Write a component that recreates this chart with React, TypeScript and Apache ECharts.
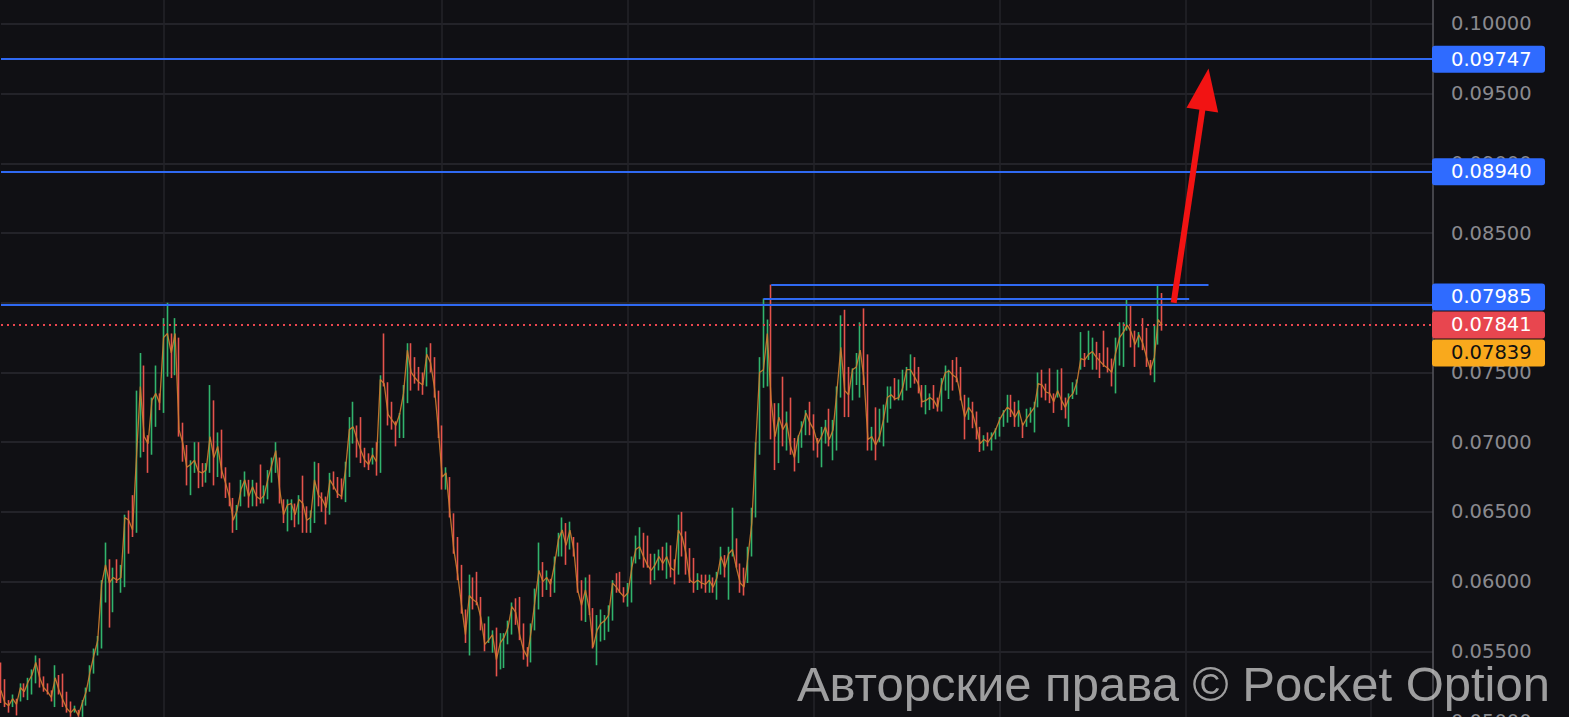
import React, { useEffect, useRef } from 'react';
import * as echarts from 'echarts';

// Each candle: [close, high, low]; open = previous close
const segA: number[][] = [
  [0.0522,0.0542,0.0513],[0.0513,0.0530,0.0510],[0.0511,0.0515,0.0506],[0.0516,0.0519,0.0510],[0.0512,0.0516,0.0504],
  [0.0524,0.0527,0.0514],[0.0521,0.0527,0.0517],[0.0528,0.0531,0.0515],[0.0533,0.0537,0.0519],[0.0542,0.0547,0.0527],
  [0.0531,0.0545,0.0524],[0.0524,0.0532,0.0521],[0.0521,0.0527,0.0519],[0.0517,0.0522,0.0514],[0.0531,0.0540,0.0510],
  [0.0522,0.0533,0.0519],[0.0515,0.0534,0.0510],[0.0509,0.0521,0.0506],[0.0506,0.0514,0.0503],[0.0509,0.0511,0.0506],
  [0.0504,0.0508,0.0503],[0.0513,0.0515,0.0503],[0.0521,0.0524,0.0511],[0.0535,0.0540,0.0521],[0.0547,0.0552,0.0534],
  [0.0558,0.0561,0.0547],[0.0598,0.0601,0.0552],
];
const segB: number[][] = [
  [0.0612,0.0628,0.0585],[0.0599,0.0616,0.0567],[0.0603,0.0610,0.0578],[0.0601,0.0616,0.0599],[0.0603,0.0612,0.0592],
  [0.0646,0.0648,0.0596],[0.0644,0.0651,0.0620],[0.0637,0.0662,0.0632],[0.0689,0.0737,0.0635],[0.0740,0.0764,0.0689],
  [0.0704,0.0755,0.0693],[0.0699,0.0705,0.0678],[0.0730,0.0732,0.0691],[0.0735,0.0755,0.0711],[0.0728,0.0735,0.0723],
  [0.0775,0.0789,0.0721],[0.0778,0.0800,0.0747],[0.0764,0.0778,0.0746],[0.0778,0.0789,0.0748],[0.0709,0.0775,0.0704],
  [0.0699,0.0714,0.0686],[0.0682,0.0698,0.0669],[0.0684,0.0687,0.0662],[0.0687,0.0700,0.0678],[0.0679,0.0700,0.0667],
  [0.0678,0.0685,0.0668],[0.0680,0.0685,0.0671],[0.0704,0.0741,0.0678],[0.0689,0.0730,0.0669],[0.0697,0.0707,0.0675],
  [0.0680,0.0709,0.0674],[0.0671,0.0682,0.0660],[0.0661,0.0671,0.0654],[0.0644,0.0660,0.0635],[0.0651,0.0655,0.0637],
  [0.0666,0.0673,0.0654],[0.0673,0.0679,0.0661],[0.0661,0.0673,0.0653],[0.0668,0.0673,0.0654],[0.0661,0.0671,0.0654],
  [0.0659,0.0684,0.0656],[0.0662,0.0669,0.0656],[0.0674,0.0680,0.0659],[0.0684,0.0689,0.0671],[0.0694,0.0700,0.0678],
  [0.0666,0.0689,0.0656],[0.0648,0.0659,0.0642],[0.0655,0.0659,0.0636],[0.0656,0.0659,0.0644],[0.0648,0.0656,0.0639],
  [0.0659,0.0662,0.0641],
];
const segC: number[][] = [
  [0.0656,0.0676,0.0635],[0.0644,0.0654,0.0635],[0.0646,0.0651,0.0635],[0.0673,0.0686,0.0642],[0.0662,0.0685,0.0654],
  [0.0659,0.0664,0.0650],[0.0653,0.0661,0.0641],[0.0673,0.0678,0.0648],[0.0668,0.0679,0.0666],[0.0663,0.0675,0.0660],
  [0.0661,0.0674,0.0659],[0.0680,0.0686,0.0657],[0.0709,0.0718,0.0675],[0.0711,0.0729,0.0699],[0.0702,0.0712,0.0689],
  [0.0694,0.0718,0.0685],[0.0687,0.0696,0.0682],[0.0684,0.0692,0.0680],[0.0691,0.0696,0.0684],[0.0686,0.0700,0.0676],
  [0.0745,0.0748,0.0678],[0.0742,0.0778,0.0740],[0.0720,0.0743,0.0712],[0.0716,0.0729,0.0709],[0.0712,0.0715,0.0697],
  [0.0720,0.0721,0.0703],[0.0735,0.0741,0.0703],[0.0766,0.0771,0.0728],[0.0750,0.0771,0.0737],[0.0746,0.0761,0.0742],
  [0.0743,0.0754,0.0737],[0.0741,0.0750,0.0734],[0.0763,0.0768,0.0740],[0.0757,0.0771,0.0750],[0.0739,0.0761,0.0732],
  [0.0709,0.0737,0.0703],[0.0675,0.0712,0.0666],[0.0678,0.0682,0.0666],[0.0649,0.0675,0.0646],[0.0623,0.0649,0.0620],
  [0.0605,0.0632,0.0601],[0.0583,0.0612,0.0577],[0.0562,0.0580,0.0556],[0.0590,0.0605,0.0547],[0.0587,0.0603,0.0580],
  [0.0585,0.0607,0.0583],[0.0574,0.0589,0.0565],[0.0555,0.0570,0.0550],[0.0558,0.0575,0.0556],[0.0562,0.0565,0.0549],
  [0.0544,0.0567,0.0532],[0.0556,0.0563,0.0537],[0.0560,0.0563,0.0538],[0.0567,0.0572,0.0555],[0.0582,0.0585,0.0562],
  [0.0578,0.0588,0.0569],[0.0562,0.0589,0.0558],[0.0551,0.0570,0.0544],[0.0546,0.0553,0.0539],[0.0565,0.0570,0.0542],
  [0.0587,0.0595,0.0565],[0.0608,0.0628,0.0580],[0.0600,0.0614,0.0589],[0.0603,0.0608,0.0594],[0.0598,0.0602,0.0589],
  [0.0612,0.0618,0.0592],[0.0630,0.0635,0.0618],[0.0637,0.0646,0.0618],[0.0626,0.0642,0.0612],[0.0637,0.0643,0.0623],
  [0.0623,0.0632,0.0618],[0.0594,0.0628,0.0592],[0.0583,0.0601,0.0572],[0.0594,0.0603,0.0571],[0.0580,0.0605,0.0576],
];
const segD: number[][] = [
  [0.0553,0.0581,0.0552],[0.0565,0.0576,0.0540],[0.0570,0.0580,0.0557],[0.0572,0.0576,0.0558],[0.0576,0.0583,0.0564],
  [0.0599,0.0601,0.0572],[0.0596,0.0606,0.0592],[0.0592,0.0607,0.0592],[0.0589,0.0596,0.0585],[0.0592,0.0599,0.0582],
  [0.0610,0.0618,0.0585],[0.0623,0.0633,0.0613],[0.0625,0.0639,0.0616],[0.0618,0.0635,0.0610],[0.0612,0.0633,0.0610],
  [0.0608,0.0620,0.0598],[0.0612,0.0620,0.0601],[0.0618,0.0623,0.0608],[0.0613,0.0625,0.0608],[0.0618,0.0628,0.0602],
  [0.0610,0.0626,0.0603],[0.0608,0.0616,0.0598],[0.0637,0.0648,0.0605],[0.0632,0.0650,0.0618],[0.0620,0.0636,0.0605],
  [0.0601,0.0624,0.0599],[0.0599,0.0617,0.0592],[0.0601,0.0606,0.0594],[0.0599,0.0605,0.0595],[0.0598,0.0605,0.0592],
  [0.0601,0.0605,0.0592],[0.0596,0.0603,0.0592],[0.0603,0.0607,0.0587],[0.0618,0.0625,0.0605],[0.0610,0.0619,0.0603],
  [0.0620,0.0625,0.0587],[0.0623,0.0653,0.0618],[0.0610,0.0631,0.0610],[0.0599,0.0613,0.0592],[0.0596,0.0610,0.0590],
  [0.0618,0.0625,0.0599],[0.0642,0.0653,0.0618],[0.0698,0.0700,0.0646],[0.0750,0.0761,0.0691],[0.0752,0.0803,0.0739],
  [0.0778,0.0788,0.0740],[0.0730,0.0813,0.0702],[0.0704,0.0728,0.0680],[0.0718,0.0728,0.0685],[0.0709,0.0747,0.0697],
  [0.0714,0.0722,0.0694],[0.0697,0.0732,0.0691],[0.0689,0.0703,0.0679],[0.0704,0.0705,0.0685],[0.0711,0.0715,0.0696],
  [0.0721,0.0723,0.0705],[0.0714,0.0729,0.0705],[0.0709,0.0720,0.0694],[0.0699,0.0703,0.0689],[0.0704,0.0711,0.0682],
  [0.0711,0.0716,0.0699],[0.0702,0.0724,0.0697],[0.0709,0.0716,0.0687],[0.0737,0.0740,0.0694],[0.0768,0.0791,0.0732],
  [0.0737,0.0795,0.0718],[0.0734,0.0754,0.0718],[0.0752,0.0753,0.0730],[0.0754,0.0764,0.0741],[0.0766,0.0786,0.0732],
  [0.0745,0.0796,0.0741],[0.0702,0.0763,0.0694],[0.0704,0.0711,0.0694],[0.0698,0.0725,0.0687],[0.0704,0.0724,0.0700],
];
const segE: number[][] = [
  [0.0716,0.0727,0.0697],[0.0732,0.0740,0.0714],[0.0734,0.0740,0.0724],[0.0731,0.0746,0.0730],[0.0732,0.0745,0.0730],
  [0.0739,0.0752,0.0730],[0.0752,0.0754,0.0737],[0.0752,0.0763,0.0739],[0.0747,0.0761,0.0742],[0.0742,0.0754,0.0735],
  [0.0729,0.0741,0.0725],[0.0730,0.0741,0.0720],[0.0732,0.0735,0.0723],[0.0730,0.0741,0.0724],[0.0725,0.0732,0.0722],
  [0.0741,0.0746,0.0722],[0.0750,0.0755,0.0737],[0.0751,0.0752,0.0731],[0.0748,0.0759,0.0737],[0.0746,0.0761,0.0743],
  [0.0732,0.0754,0.0730],[0.0718,0.0734,0.0702],[0.0725,0.0732,0.0716],[0.0721,0.0729,0.0710],[0.0711,0.0722,0.0702],
  [0.0699,0.0711,0.0693],[0.0702,0.0705,0.0694],[0.0700,0.0707,0.0697],[0.0704,0.0707,0.0694],[0.0709,0.0710,0.0702],
  [0.0716,0.0718,0.0704],[0.0721,0.0723,0.0711],[0.0725,0.0734,0.0714],[0.0723,0.0734,0.0718],[0.0718,0.0729,0.0711],
  [0.0723,0.0730,0.0711],[0.0712,0.0714,0.0703],[0.0717,0.0724,0.0711],[0.0721,0.0725,0.0714],[0.0725,0.0729,0.0707],
  [0.0742,0.0750,0.0725],[0.0741,0.0752,0.0732],[0.0736,0.0742,0.0730],[0.0735,0.0753,0.0728],[0.0729,0.0735,0.0721],
  [0.0737,0.0752,0.0732],[0.0730,0.0753,0.0723],[0.0725,0.0732,0.0717],[0.0732,0.0735,0.0711],[0.0735,0.0743,0.0731],
  [0.0743,0.0745,0.0734],[0.0760,0.0779,0.0752],[0.0759,0.0764,0.0754],[0.0763,0.0780,0.0759],[0.0765,0.0775,0.0752],
  [0.0761,0.0772,0.0752],[0.0758,0.0764,0.0746],[0.0755,0.0780,0.0754],[0.0753,0.0768,0.0750],[0.0750,0.0760,0.0740],
  [0.0764,0.0775,0.0735],[0.0775,0.0786,0.0755],[0.0779,0.0786,0.0754],[0.0784,0.0803,0.0780],[0.0779,0.0798,0.0768],
  [0.0770,0.0780,0.0754],[0.0777,0.0779,0.0768],[0.0771,0.0789,0.0766],[0.0761,0.0782,0.0754],[0.0752,0.0759,0.0748],
  [0.0761,0.0784,0.0743],[0.0788,0.0813,0.0770],[0.0784,0.0807,0.0780],
];
const firstOpen = 0.0530;

const totalCategories = 371;
const gridCategoryIndices = [42, 114, 162, 210, 258, 306, 354];

const yMin = 0.05;
const yMax = 0.10172;
const yInterval = 0.005;

const levelLines = [0.09747, 0.0894, 0.07985];
const currentPrice = 0.07841;
const shortLevels = [
  { from: 199, to: 312, value: 0.0813 },
  { from: 197, to: 307, value: 0.0803 },
];
const priceTags = [0.09747, 0.0894, 0.07985, 0.07841, 0.07839];
const tagKinds = ['level', 'level', 'level', 'current', 'bid'];
const arrowFrom = [303, 0.0800];
const arrowTo = [312, 0.0968];
const watermark = 'Авторские права © Pocket Option';

const BG = '#101014';
const GRID = '#232329';
const UP = '#31b46d';
const DOWN = '#e5534c';
const BLUE = '#2f69f2';
const AXIS_FONT = '"DejaVu Sans"';
const TAG_COLORS: Record<string, { bg: string; fg: string }> = {
  level: { bg: '#2f6bff', fg: '#ffffff' },
  current: { bg: '#e8464f', fg: '#ffffff' },
  bid: { bg: '#f9a91c', fg: '#111111' },
};

export default function App() {
  const ref = useRef<HTMLDivElement>(null);
  useEffect(() => {
    if (!ref.current) return;
    const chart = echarts.init(ref.current, null, { renderer: 'svg' });
    const bars = [...segA, ...segB, ...segC, ...segD, ...segE];
    const closes = bars.map((b) => b[0]);
    const ohlc = bars.map((b, i) => [i === 0 ? firstOpen : bars[i - 1][0], b[0], b[2], b[1]]);
    const categories = Array.from({ length: totalCategories }, (_, i) => String(i));

    const markData: any[] = [
      ...levelLines.map((v) => ({ yAxis: v, lineStyle: { color: BLUE, width: 2, type: 'solid' } })),
      { yAxis: currentPrice, lineStyle: { color: '#e8464f', width: 2, type: [2, 4] } },
      ...shortLevels.map((s) => [
        { coord: [s.from, s.value], lineStyle: { color: BLUE, width: 2, type: 'solid' } },
        { coord: [s.to, s.value] },
      ]),
    ];

    chart.setOption({
      animation: false,
      backgroundColor: BG,
      grid: { left: 1, right: 136, top: 0, height: 721, containLabel: false, outerBoundsMode: 'none' },
      xAxis: {
        type: 'category',
        data: categories,
        boundaryGap: false,
        axisLine: { show: false },
        axisTick: { show: false },
        axisLabel: { show: false },
        splitLine: {
          show: true,
          interval: (idx: number) => gridCategoryIndices.includes(idx),
          lineStyle: { color: GRID, width: 1.5 },
        },
      },
      yAxis: {
        type: 'value',
        position: 'right',
        min: yMin,
        max: yMax,
        interval: yInterval,
        scale: true,
        axisLine: { show: true, lineStyle: { color: '#56565c', width: 1.5 } },
        axisTick: { show: false },
        axisLabel: {
          color: '#8a8a8f',
          fontSize: 19.5,
          fontFamily: AXIS_FONT,
          margin: 18,
          showMaxLabel: false,
          formatter: (v: number) => v.toFixed(5),
        },
        splitLine: { show: true, showMaxLine: false, lineStyle: { color: GRID, width: 2 } },
      },
      series: [
        {
          type: 'candlestick',
          data: ohlc,
          barWidth: 1,
          itemStyle: { color: UP, color0: DOWN, borderColor: UP, borderColor0: DOWN, borderWidth: 1.6 },
          markLine: { silent: true, precision: 5, symbol: ['none', 'none'], label: { show: false }, data: markData },
          z: 2,
        },
        {
          type: 'line',
          data: closes,
          showSymbol: false,
          symbol: 'none',
          lineStyle: { color: '#cf7d30', width: 1.3, opacity: 0.9 },
          z: 3,
        },
      ],
    });

    // tags on the price scale
    const H = 28;
    const ys = priceTags.map((v) => chart.convertToPixel({ yAxisIndex: 0 }, v) as number);
    const anchor = tagKinds.indexOf('current');
    for (let i = anchor - 1; i >= 0; i--) ys[i] = Math.min(ys[i], ys[i + 1] - H);
    for (let i = anchor + 1; i < ys.length; i++) ys[i] = Math.max(ys[i], ys[i - 1] + H);
    const axisX = 1569 - 136;
    const graphics: any[] = [];
    priceTags.forEach((v, i) => {
      const c = TAG_COLORS[tagKinds[i]];
      graphics.push({
        type: 'rect', z: 100,
        shape: { x: axisX - 1, y: ys[i] - 13.5, width: 113, height: 27, r: 3 },
        style: { fill: c.bg },
      });
      graphics.push({
        type: 'text', z: 101, x: axisX + 18, y: ys[i],
        style: { text: v.toFixed(5), fill: c.fg, font: `19.5px ${AXIS_FONT}`, textAlign: 'left', textVerticalAlign: 'middle', align: 'left', verticalAlign: 'middle' },
      });
    });

    // arrow
    const p0 = chart.convertToPixel({ gridIndex: 0 }, arrowFrom) as number[];
    const p1 = chart.convertToPixel({ gridIndex: 0 }, arrowTo) as number[];
    const dx = p1[0] - p0[0], dy = p1[1] - p0[1];
    const len = Math.hypot(dx, dy);
    const ux = dx / len, uy = dy / len;
    const headL = 42, headW = 16;
    const bx = p1[0] - ux * headL, by = p1[1] - uy * headL;
    graphics.push({
      type: 'line', z: 90,
      shape: { x1: p0[0], y1: p0[1], x2: bx + ux * 3, y2: by + uy * 3 },
      style: { stroke: '#f21313', lineWidth: 6 },
    });
    graphics.push({
      type: 'polygon', z: 90,
      shape: { points: [[p1[0], p1[1]], [bx - uy * headW, by + ux * headW], [bx + uy * headW, by - ux * headW]] },
      style: { fill: '#f21313' },
    });

    graphics.push({
      type: 'text', z: 110, x: 1550, y: 708,
      style: {
        text: watermark, fill: 'rgba(205,205,205,0.75)', font: '49px "Liberation Sans"',
        textAlign: 'right', textVerticalAlign: 'bottom', align: 'right', verticalAlign: 'bottom',
      },
    });

    chart.setOption({ graphic: graphics });
    return () => chart.dispose();
  }, []);

  return (
    <div
      ref={ref}
      style={{ position: 'fixed', left: 0, top: 0, width: 1569, height: 717, background: BG }}
    />
  );
}
